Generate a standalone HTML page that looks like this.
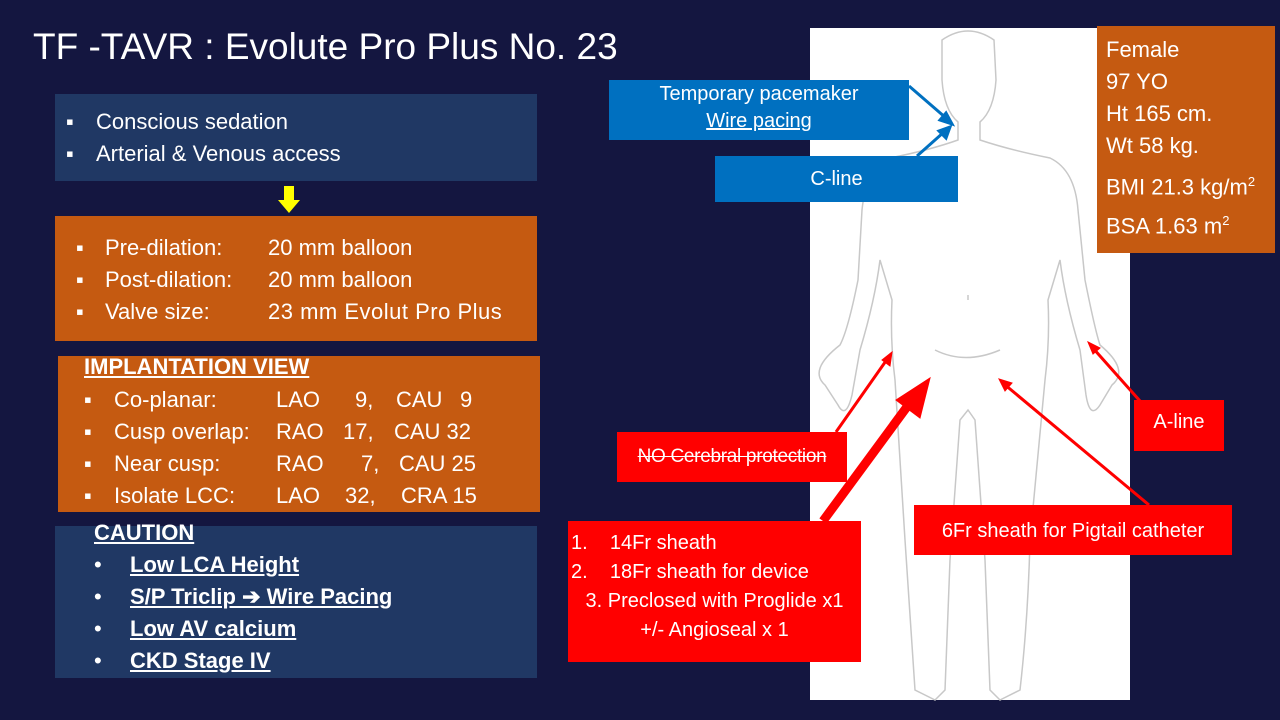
<!DOCTYPE html>
<html><head><meta charset="utf-8"><style>
*{margin:0;padding:0;box-sizing:border-box}
body{width:1280px;height:720px;background:#141640;position:relative;overflow:hidden;font-family:"Liberation Sans",sans-serif;color:#fff}
.a{position:absolute}
.box{position:absolute}
.t{position:absolute;white-space:nowrap;font-size:22px;line-height:24px}
.u{text-decoration:underline}
</style></head><body>
<div class="t" style="left:33px;top:27px;font-size:37px;line-height:40px">TF -TAVR : Evolute Pro Plus No. 23</div>

<div class="box" style="left:810px;top:28px;width:320px;height:672px;background:#fff"></div>
<svg class="a" style="left:0;top:0" width="1280" height="720" viewBox="0 0 1280 720">
<g fill="none" stroke="#c8c8c8" stroke-width="1.5">
<path d="M942,40 Q968,22 994,40 L996,80 Q994,110 980,122 L980,140 Q1010,150 1050,158 Q1075,170 1078,210 L1085,280 Q1095,330 1100,345 Q1130,370 1112,385 L1100,405 Q1090,420 1086,395 L1080,350 Q1065,300 1060,260 L1048,300 Q1050,340 1045,380 L1030,540 Q1028,620 1020,690 L1000,700 L990,690 L985,560 L975,420 L968,410 L960,420 L950,560 L945,690 L935,700 L915,690 Q910,620 905,540 L895,380 Q890,340 892,300 L880,260 Q875,300 860,350 L852,395 Q846,420 838,405 L825,385 Q808,370 840,345 Q848,330 858,280 L862,210 Q866,170 890,158 Q930,150 958,140 L958,122 Q944,110 942,80 Z"/>
<path d="M935,350 Q965,365 1000,350"/>
<path d="M968,295 l0,5"/>
</g>
<g stroke="#0070c0" stroke-width="3" fill="#0070c0">
<line x1="909" y1="86" x2="946" y2="118"/><polygon points="952,124 940,120 946,113"/>
<line x1="917" y1="156" x2="944" y2="132"/><polygon points="950,127 946,138 939,131"/>
</g>
<g stroke="#f00" fill="#f00">
<line x1="836" y1="432" x2="888" y2="358" stroke-width="3"/><polygon points="892,352 890,366 882,360"/>
<line x1="823" y1="521" x2="912" y2="400" stroke-width="9"/><polygon points="930,378 920,418 896,400"/>
<line x1="1149" y1="505" x2="1004" y2="384" stroke-width="3"/><polygon points="999,379 1012,383 1005,391"/>
<line x1="1140" y1="401" x2="1092" y2="347" stroke-width="3"/><polygon points="1088,342 1100,348 1093,354"/>
</g>
<polygon points="284,186 294,186 294,200 300,200 289,213 278,200 284,200" fill="#ffff00"/>
</svg>

<div class="box" style="left:55px;top:94px;width:482px;height:87px;background:#203864"></div>
<div class="t" style="left:66px;top:110px">▪</div><div class="t" style="left:96px;top:110px">Conscious sedation</div>
<div class="t" style="left:66px;top:142px">▪</div><div class="t" style="left:96px;top:142px">Arterial &amp; Venous access</div>

<div class="box" style="left:55px;top:216px;width:482px;height:125px;background:#c55a11"></div>
<div class="t" style="left:76px;top:236px">▪</div><div class="t" style="left:105px;top:236px">Pre-dilation:</div><div class="t" style="left:268px;top:236px">20 mm balloon</div>
<div class="t" style="left:76px;top:268px">▪</div><div class="t" style="left:105px;top:268px">Post-dilation:</div><div class="t" style="left:268px;top:268px">20 mm balloon</div>
<div class="t" style="left:76px;top:300px">▪</div><div class="t" style="left:105px;top:300px">Valve size:</div><div class="t" style="left:268px;top:300px;letter-spacing:0.5px">23 mm Evolut Pro Plus</div>

<div class="box" style="left:58px;top:356px;width:482px;height:156px;background:#c55a11"></div>
<div class="t u" style="left:84px;top:355px;font-weight:bold">IMPLANTATION VIEW</div>
<div class="t" style="left:84px;top:388px">▪</div><div class="t" style="left:114px;top:388px">Co-planar:</div><div class="t" style="left:276px;top:388px">LAO</div><div class="t" style="left:355px;top:388px">9,</div><div class="t" style="left:396px;top:388px">CAU</div><div class="t" style="left:460px;top:388px">9</div>
<div class="t" style="left:84px;top:420px">▪</div><div class="t" style="left:114px;top:420px">Cusp overlap:</div><div class="t" style="left:276px;top:420px">RAO</div><div class="t" style="left:343px;top:420px">17,</div><div class="t" style="left:394px;top:420px">CAU 32</div>
<div class="t" style="left:84px;top:452px">▪</div><div class="t" style="left:114px;top:452px">Near cusp:</div><div class="t" style="left:276px;top:452px">RAO</div><div class="t" style="left:361px;top:452px">7,</div><div class="t" style="left:399px;top:452px">CAU 25</div>
<div class="t" style="left:84px;top:484px">▪</div><div class="t" style="left:114px;top:484px">Isolate LCC:</div><div class="t" style="left:276px;top:484px">LAO</div><div class="t" style="left:345px;top:484px">32,</div><div class="t" style="left:401px;top:484px">CRA 15</div>

<div class="box" style="left:55px;top:526px;width:482px;height:152px;background:#203864"></div>
<div class="t u" style="left:94px;top:521px;font-weight:bold">CAUTION</div>
<div class="t" style="left:94px;top:553px">•</div><div class="t u" style="left:130px;top:553px;font-weight:bold">Low LCA Height</div>
<div class="t" style="left:94px;top:585px">•</div><div class="t u" style="left:130px;top:585px;font-weight:bold">S/P Triclip ➔ Wire Pacing</div>
<div class="t" style="left:94px;top:617px">•</div><div class="t u" style="left:130px;top:617px;font-weight:bold">Low AV calcium</div>
<div class="t" style="left:94px;top:649px">•</div><div class="t u" style="left:130px;top:649px;font-weight:bold">CKD Stage IV</div>

<div class="box" style="left:609px;top:80px;width:300px;height:60px;background:#0070c0;text-align:center;font-size:20px;line-height:27px;padding-top:1px">Temporary pacemaker<br><span class="u">Wire pacing</span></div>
<div class="box" style="left:715px;top:156px;width:243px;height:46px;background:#0070c0;text-align:center;font-size:20px;line-height:46px">C-line</div>

<div class="box" style="left:1097px;top:26px;width:178px;height:227px;background:#c55a11;font-size:22px;line-height:32px;padding:8px 0 0 9px">Female<br>97 YO<br>Ht 165 cm.<br>Wt 58 kg.<br><div style="margin-top:4px">BMI 21.3 kg/m<sup style="font-size:13px">2</sup></div><div style="margin-top:2px">BSA 1.63 m<sup style="font-size:13px">2</sup></div></div>

<div class="box" style="left:617px;top:432px;width:230px;height:50px;background:#f00;text-align:center;font-size:19px;line-height:50px;text-decoration:line-through;letter-spacing:-0.3px">NO Cerebral protection</div>
<div class="box" style="left:1134px;top:400px;width:90px;height:51px;background:#f00;text-align:center;font-size:20px;line-height:44px">A-line</div>
<div class="box" style="left:914px;top:505px;width:318px;height:50px;background:#f00;text-align:center;font-size:20px;line-height:52px">6Fr sheath for Pigtail catheter</div>
<div class="box" style="left:568px;top:521px;width:293px;height:141px;background:#f00;font-size:20px;line-height:29px;padding-top:8px">
<div style="padding-left:3px">1.&nbsp;&nbsp;&nbsp; 14Fr sheath</div>
<div style="padding-left:3px">2.&nbsp;&nbsp;&nbsp; 18Fr sheath for device</div>
<div style="text-align:center">3. Preclosed with Proglide x1</div>
<div style="text-align:center">+/- Angioseal x 1</div>
</div>
</body></html>
